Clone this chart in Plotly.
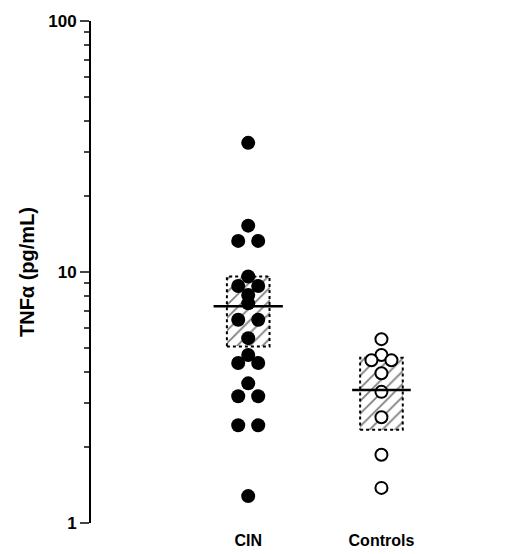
import plotly.graph_objects as go

# --- values (pg/mL) ---
groups = ["CIN", "Controls"]
cin_vals = [32.7, 15.3, 13.3, 13.3, 9.6, 8.8, 8.8, 8.1, 7.5, 6.45, 6.45, 5.45,
            4.67, 4.34, 4.34, 3.6, 3.2, 3.2, 2.45, 2.45, 1.28]
cin_jit = [0, 0, -1, 1, 0, -1, 1, 0, 0, -1, 1, 0, 0, -1, 1, 0, -1, 1, -1, 1, 0]
ctrl_vals = [5.4, 4.67, 4.45, 4.45, 3.95, 3.33, 2.64, 1.87, 1.38]
ctrl_jit = [0, 0, -1, 1, 0, 0, 0, 0, 0]
means = [7.3, 3.39]
box_lo = [5.05, 2.35]
box_hi = [9.6, 4.55]

pos = [1, 2]
jit = 0.075
half_box = 0.16

fig = go.Figure()

# hatched boxes
fig.add_trace(go.Bar(
    x=pos, y=[h - l for h, l in zip(box_hi, box_lo)], base=box_lo,
    width=2 * half_box,
    marker=dict(color="white", line=dict(width=0),
                pattern=dict(shape="/", fgcolor="black", bgcolor="white",
                             size=9, solidity=0.2)),
    showlegend=False, hoverinfo="skip"))

# dotted box outlines
for p, lo, hi in zip(pos, box_lo, box_hi):
    fig.add_trace(go.Scatter(
        x=[p - half_box, p + half_box, p + half_box, p - half_box, p - half_box],
        y=[lo, lo, hi, hi, lo], mode="lines",
        line=dict(color="black", width=2, dash="dot"),
        showlegend=False, hoverinfo="skip"))

fig.add_trace(go.Scatter(
    x=[1 + j * jit for j in cin_jit], y=cin_vals, mode="markers",
    marker=dict(size=14, color="black", line=dict(width=0)), showlegend=False))
fig.add_trace(go.Scatter(
    x=[2 + j * jit for j in ctrl_jit], y=ctrl_vals, mode="markers",
    marker=dict(size=12, color="white", line=dict(width=2, color="black")),
    showlegend=False))

# mean lines
for p, m, hw in zip(pos, means, [0.26, 0.22]):
    fig.add_trace(go.Scatter(x=[p - hw, p + hw], y=[m, m], mode="lines",
                             line=dict(color="black", width=2.5),
                             showlegend=False, hoverinfo="skip"))

fig.update_layout(
    width=520, height=554,
    margin=dict(l=83, r=0, t=13, b=39),
    paper_bgcolor="white", plot_bgcolor="white",
    font=dict(family="Liberation Sans, Arial", color="black", size=16),
    bargap=0,
    xaxis=dict(range=[-0.18, 3.1], tickvals=pos,
               ticktext=["<b>CIN</b>", "<b>Controls</b>"],
               showline=False, showgrid=False, zeroline=False, ticks="",
               tickfont=dict(size=16), ticklabelstandoff=6),
    yaxis=dict(type="log", range=[0, 2], showgrid=False, zeroline=False,
               showline=True, linecolor="black", linewidth=2,
               ticks="outside", ticklen=9, tickwidth=2,
               tickvals=[1, 10, 100], ticktext=["<b>1</b>", "<b>10</b>", "<b>100</b>"],
               tickfont=dict(size=17),
               minor=dict(ticks="outside", ticklen=5, tickwidth=1.5,
                          tickvals=[2, 3, 4, 5, 6, 7, 8, 9, 20, 30, 40, 50, 60, 70, 80, 90]),
               title=dict(text="<b>TNFα (pg/mL)</b>", font=dict(size=20), standoff=8)),
)

fig.write_html("out.html")
